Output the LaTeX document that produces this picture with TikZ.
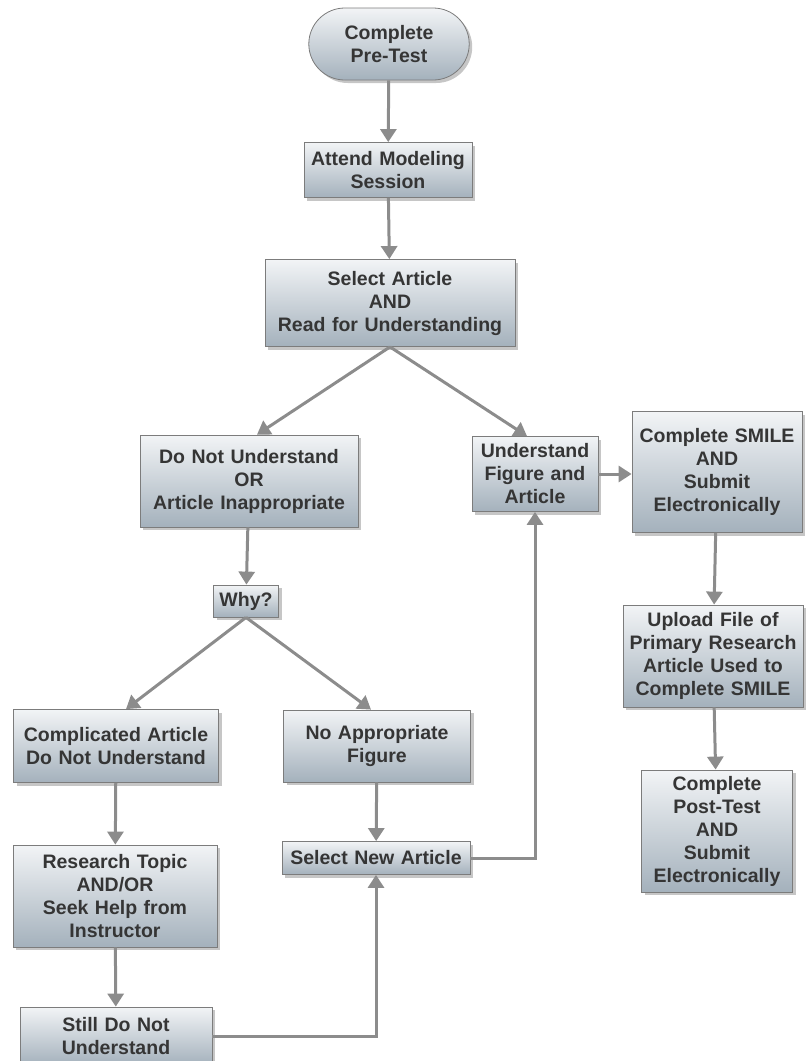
\documentclass[tikz,border=0pt]{standalone}
\usepackage{fontspec}
\setmainfont{Liberation Sans}
\usepackage{tikz}
\usetikzlibrary{arrows.meta,shadows,shapes.misc}

\definecolor{boxtop}{HTML}{F2F4F6}
\definecolor{boxbot}{HTML}{A4B1BC}
\definecolor{boxline}{HTML}{7C7C7C}
\definecolor{arrowgray}{HTML}{8C8C8C}
\definecolor{textgray}{HTML}{353535}

\begin{document}
\begin{tikzpicture}[x=1pt,y=-1pt]

\tikzset{step box/.style 2 args={
    draw=boxline, line width=0.8pt,
    top color=boxtop, bottom color=boxbot,
    drop shadow={shadow xshift=3pt, shadow yshift=-3pt, opacity=0.45},
    minimum width=#1, minimum height=#2,
    text width=#1-2pt, align=center,
    inner sep=0pt, text=textgray,
    font=\fontsize{19.5}{23}\selectfont\bfseries
  },
  start box/.style={step box={#1}{72pt}, rounded rectangle},
  flow/.style={draw=arrowgray, line width=3pt,
    -{Triangle[length=13pt,width=16pt]}}
}

\useasboundingbox (0,0) rectangle (811,1061);

% top column
\node[start box=152pt] (pre) at (389,44) {Complete\\Pre-Test};
\node[step box={168pt}{55pt}] (attend) at (388,170) {Attend Modeling\\Session};
\node[step box={250pt}{87pt}] (select) at (390,303) {Select Article\\AND\\Read for Understanding};

% left branch
\node[step box={218pt}{92pt}] (dnu) at (249,481) {Do Not Understand\\OR\\Article Inappropriate};
\node[step box={65pt}{32pt}] (why) at (246,601) {Why?};
\node[step box={205pt}{73pt}] (compl) at (116,746) {Complicated Article\\Do Not Understand};
\node[step box={187pt}{72pt}] (noapp) at (377,746) {No Appropriate\\Figure};
\node[step box={188pt}{33pt}] (selnew) at (376,858) {Select New Article};
\node[step box={204pt}{102pt}] (research) at (115,896) {Research Topic\\AND/OR\\Seek Help from\\Instructor};
\node[step box={192pt}{58pt}] (still) at (116,1036) {Still Do Not\\Understand};

% right branch
\node[step box={126pt}{75pt}] (und) at (535,474) {Understand\\Figure and\\Article};
\node[step box={170pt}{121pt}] (smile) at (717,472) {Complete SMILE\\AND\\Submit\\Electronically};
\node[step box={180pt}{102pt}] (upload) at (713,656) {Upload File of\\Primary Research\\Article Used to\\Complete SMILE};
\node[step box={151pt}{122pt}] (post) at (717,831) {Complete\\Post-Test\\AND\\Submit\\Electronically};

% connectors
\draw[flow] (pre) -- (attend);
\draw[flow] (attend) -- (select);
\draw[flow] (select.south) -- ([xshift=8pt]dnu.north);
\draw[flow] (select.south) -- ([xshift=-8pt]und.north);
\draw[flow] (dnu) -- (why);
\draw[flow] (why.south) -- ([xshift=10pt]compl.north);
\draw[flow] (why.south) -- ([xshift=-6pt]noapp.north);
\draw[flow] (compl) -- (research);
\draw[flow] (research) -- (still);
\draw[flow] (noapp) -- (selnew);
\draw[flow] (still.east) -| (selnew.south);
\draw[flow] (selnew.east) -| (und.south);
\draw[flow] (und.east) -- (und.east -| smile.west);
\draw[flow] (smile) -- (upload);
\draw[flow] (upload) -- (post);

\end{tikzpicture}
\end{document}
